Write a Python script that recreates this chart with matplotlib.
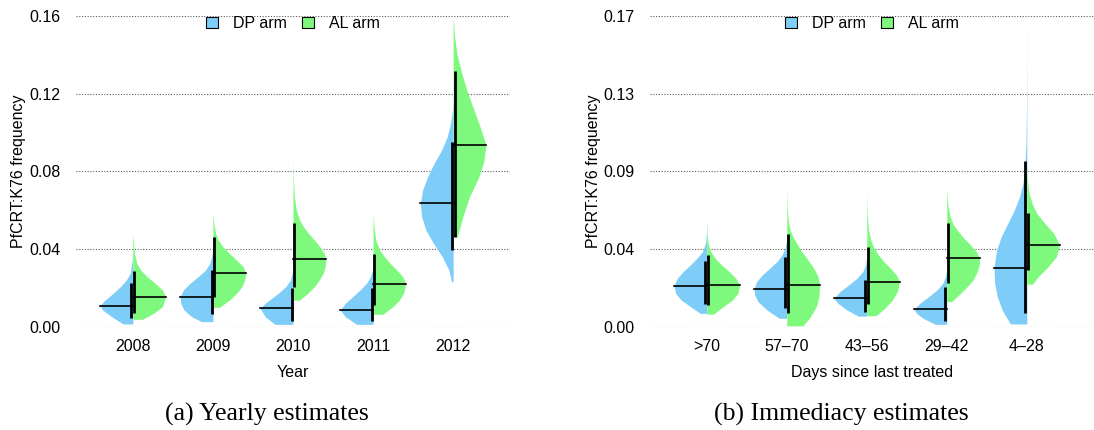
import matplotlib.pyplot as plt
from matplotlib.patches import Patch
import numpy as np

plt.rcParams['font.family'] = ['Liberation Sans', 'DejaVu Sans']

blue = '#7dcdf8'
green = '#7ef97e'
half_width = 0.41

# (a) yearly estimates
years = ['2008', '2009', '2010', '2011', '2012']
year_dp_median = [0.0108, 0.0155, 0.0094, 0.0086, 0.0635]
year_al_median = [0.0155, 0.0278, 0.0347, 0.0221, 0.0935]
year_dp_ci = [(0.0043, 0.0223), (0.0065, 0.0292), (0.0029, 0.0201), (0.0029, 0.0197), (0.0395, 0.0950)]
year_al_ci = [(0.0069, 0.0287), (0.0155, 0.0460), (0.0206, 0.0536), (0.0112, 0.0374), (0.0463, 0.1316)]
# density outline of each half violin: heights and relative widths
year_dp_y = [
    [0.0014, 0.0052, 0.0086, 0.0108, 0.0137, 0.0172, 0.0206, 0.024, 0.0275, 0.0343, 0.0395],
    [0.0026, 0.0052, 0.0086, 0.012, 0.0155, 0.0189, 0.0223, 0.0258, 0.0292, 0.0326, 0.0361, 0.0403],
    [0.0012, 0.0052, 0.0094, 0.012, 0.0146, 0.0172, 0.0206, 0.024, 0.0283, 0.0326],
    [0.0012, 0.0052, 0.0086, 0.012, 0.0155, 0.0189, 0.0223, 0.0258, 0.0292, 0.0326],
    [0.0232, 0.0292, 0.036, 0.0429, 0.0498, 0.0566, 0.0635, 0.0704, 0.0772, 0.0841, 0.091, 0.0978, 0.1047, 0.1116, 0.118],
]
year_dp_w = [
    [0.3, 0.65, 0.92, 1.0, 0.85, 0.6, 0.38, 0.2, 0.08, 0.02, 0],
    [0.35, 0.65, 0.88, 0.98, 1.0, 0.9, 0.7, 0.45, 0.22, 0.1, 0.04, 0],
    [0.55, 0.85, 1.0, 0.85, 0.65, 0.45, 0.22, 0.08, 0.02, 0],
    [0.5, 0.85, 1.0, 0.85, 0.62, 0.4, 0.2, 0.08, 0.02, 0],
    [0.05, 0.13, 0.33, 0.6, 0.83, 0.96, 1.0, 0.93, 0.78, 0.58, 0.35, 0.18, 0.08, 0.02, 0],
]
year_al_y = [
    [0.0038, 0.0069, 0.0103, 0.0155, 0.0189, 0.0223, 0.0258, 0.0292, 0.0326, 0.0378, 0.0446, 0.0472],
    [0.010, 0.0137, 0.0172, 0.0206, 0.024, 0.0278, 0.0309, 0.0343, 0.0378, 0.0412, 0.0446, 0.0481, 0.0532, 0.0584],
    [0.0137, 0.0172, 0.0206, 0.024, 0.0275, 0.0309, 0.0347, 0.0378, 0.0412, 0.0446, 0.0481, 0.0515, 0.0549, 0.0601, 0.067, 0.0755, 0.0858],
    [0.0064, 0.0103, 0.0137, 0.0172, 0.0221, 0.0258, 0.0292, 0.0326, 0.036, 0.0395, 0.0446, 0.0515, 0.0584],
    [0.0463, 0.057, 0.067, 0.077, 0.085, 0.0935, 0.100, 0.110, 0.120, 0.130, 0.140, 0.150, 0.160],
]
year_al_w = [
    [0.29, 0.63, 0.9, 1.0, 0.9, 0.68, 0.43, 0.24, 0.12, 0.05, 0.02, 0],
    [0.2, 0.5, 0.72, 0.88, 0.97, 1.0, 0.92, 0.72, 0.5, 0.3, 0.16, 0.08, 0.03, 0],
    [0.2, 0.45, 0.65, 0.8, 0.92, 0.98, 1.0, 0.95, 0.82, 0.65, 0.47, 0.32, 0.2, 0.1, 0.04, 0.015, 0],
    [0.3, 0.6, 0.8, 0.93, 1.0, 0.9, 0.72, 0.52, 0.35, 0.2, 0.08, 0.03, 0],
    [0.13, 0.3, 0.5, 0.78, 0.93, 1.0, 0.88, 0.67, 0.45, 0.27, 0.12, 0.04, 0],
]

# (b) immediacy estimates
days = ['>70', '57\u201370', '43\u201356', '29\u201342', '4\u201328']
days_dp_median = [0.0225, 0.0207, 0.0155, 0.0095, 0.0323]
days_al_median = [0.0229, 0.0230, 0.0247, 0.0375, 0.0447]
days_dp_ci = [(0.0124, 0.036), (0.0101, 0.0384), (0.0082, 0.0256), (0.0033, 0.0219), (0.0073, 0.0908)]
days_al_ci = [(0.0119, 0.0393), (0.0077, 0.0506), (0.0124, 0.0435), (0.0238, 0.0567), (0.031, 0.0624)]
days_dp_y = [
    [0.0073, 0.011, 0.0146, 0.0183, 0.0225, 0.0265, 0.0302, 0.0338, 0.0375, 0.0411, 0.0457, 0.0512, 0.0567],
    [0.0046, 0.0091, 0.0137, 0.0174, 0.0207, 0.0247, 0.0283, 0.032, 0.0356, 0.0393, 0.043, 0.0475, 0.0512],
    [0.0058, 0.0091, 0.0128, 0.0155, 0.0192, 0.0229, 0.0265, 0.0302, 0.0338, 0.0384],
    [0.0013, 0.0046, 0.0073, 0.0095, 0.0128, 0.0165, 0.0201, 0.0238, 0.0274, 0.032],
    [0.0015, 0.0091, 0.0164, 0.0237, 0.0323, 0.042, 0.0492, 0.0565, 0.0638, 0.0711, 0.0784, 0.0876, 0.1003, 0.1186, 0.1459, 0.1678],
]
days_dp_w = [
    [0.2, 0.5, 0.78, 0.95, 1.0, 0.9, 0.72, 0.5, 0.3, 0.13, 0.04, 0.01, 0],
    [0.23, 0.6, 0.88, 0.98, 1.0, 0.92, 0.75, 0.52, 0.3, 0.14, 0.05, 0.01, 0],
    [0.26, 0.6, 0.88, 1.0, 0.82, 0.55, 0.3, 0.12, 0.04, 0],
    [0.35, 0.72, 0.92, 1.0, 0.82, 0.55, 0.3, 0.12, 0.04, 0],
    [0.5, 0.75, 0.9, 0.98, 1.0, 0.92, 0.78, 0.58, 0.38, 0.22, 0.12, 0.06, 0.025, 0.01, 0.003, 0],
]
days_al_y = [
    [0.0069, 0.011, 0.0146, 0.0183, 0.0229, 0.0265, 0.0302, 0.0338, 0.0375, 0.0411, 0.0457, 0.0512, 0.0576],
    [0.0005, 0.0055, 0.011, 0.0165, 0.023, 0.0274, 0.0311, 0.0347, 0.0384, 0.042, 0.0457, 0.0494, 0.053, 0.0585, 0.0658, 0.0753],
    [0.006, 0.0101, 0.0146, 0.0192, 0.0247, 0.0283, 0.032, 0.0356, 0.0393, 0.043, 0.0475, 0.053, 0.0622, 0.0731],
    [0.0137, 0.0183, 0.0219, 0.0256, 0.0302, 0.0338, 0.0375, 0.0411, 0.0448, 0.0484, 0.0521, 0.0558, 0.0603, 0.0658, 0.0746],
    [0.0233, 0.0274, 0.0328, 0.0383, 0.0447, 0.0511, 0.0566, 0.062, 0.0675, 0.073, 0.08, 0.088],
]
days_al_w = [
    [0.2, 0.5, 0.78, 0.95, 1.0, 0.88, 0.68, 0.45, 0.25, 0.12, 0.04, 0.01, 0],
    [0.5, 0.72, 0.9, 0.98, 1.0, 0.95, 0.85, 0.72, 0.57, 0.42, 0.3, 0.18, 0.1, 0.04, 0.015, 0],
    [0.28, 0.55, 0.78, 0.93, 1.0, 0.9, 0.72, 0.52, 0.35, 0.22, 0.12, 0.05, 0.015, 0],
    [0.15, 0.42, 0.62, 0.8, 0.93, 0.99, 1.0, 0.9, 0.72, 0.52, 0.35, 0.2, 0.1, 0.04, 0],
    [0.18, 0.35, 0.65, 0.9, 1.0, 0.82, 0.55, 0.3, 0.16, 0.07, 0.02, 0],
]


def draw_panel(ax, labels, dp_y, dp_w, al_y, al_w, dp_med, al_med, dp_ci, al_ci):
    off = 0.017  # bars sit just either side of the split
    for i in range(len(labels)):
        y = np.array(dp_y[i]); w = np.array(dp_w[i]) * half_width
        ax.fill_betweenx(y, i - w, i, color=blue, lw=0, clip_on=False, zorder=2)
        y2 = np.array(al_y[i]); w2 = np.array(al_w[i]) * half_width
        ax.fill_betweenx(y2, i, i + w2, color=green, lw=0, clip_on=False, zorder=2)
        # medians
        ax.plot([i - np.interp(dp_med[i], y, w), i], [dp_med[i]] * 2, color='black', lw=1.2, zorder=3)
        ax.plot([i, i + np.interp(al_med[i], y2, w2)], [al_med[i]] * 2, color='black', lw=1.2, zorder=3)
        # intervals
        ax.plot([i - off, i - off], dp_ci[i], color='black', lw=2.0, solid_capstyle='butt', zorder=4)
        ax.plot([i + off, i + off], al_ci[i], color='black', lw=2.0, solid_capstyle='butt', zorder=4)
    ax.set_xticks(range(len(labels)))
    ax.set_xticklabels(labels)
    for s in ax.spines.values():
        s.set_visible(False)
    ax.tick_params(length=0, labelsize=11.5)
    ax.tick_params(axis='y', pad=11)
    ax.tick_params(axis='x', pad=9)
    ax.yaxis.grid(True, linestyle=(0, (1, 1.5)), color='0.35', lw=0.8)
    ax.set_axisbelow(True)
    handles = [Patch(facecolor=blue, edgecolor='black', lw=0.8, label='DP arm'),
               Patch(facecolor=green, edgecolor='black', lw=0.8, label='AL arm')]
    ax.legend(handles=handles, loc='upper center', bbox_to_anchor=(0.5, 1.0), ncol=2,
              frameon=False, fontsize=11.5, handlelength=0.75, handleheight=0.75,
              handletextpad=0.9, columnspacing=1.0, borderaxespad=0, borderpad=0)


fig = plt.figure(figsize=(10.94, 4.30), dpi=100)
ax1 = fig.add_axes([76 / 1094, 103.3 / 430, 434 / 1094, 310.7 / 430])
ax2 = fig.add_axes([650 / 1094, 103.3 / 430, 444 / 1094, 310.7 / 430])

draw_panel(ax1, years, year_dp_y, year_dp_w, year_al_y, year_al_w,
           year_dp_median, year_al_median, year_dp_ci, year_al_ci)
ax1.set_xlim(-0.71, 4.71)
ax1.set_ylim(0, 0.16)
ax1.set_yticks([0, 0.04, 0.08, 0.12, 0.16])
ax1.set_yticklabels(['0.00', '0.04', '0.08', '0.12', '0.16'])
ax1.set_xlabel('Year', fontsize=11.5)
ax1.set_ylabel('PfCRT:K76 frequency', fontsize=11.5)
ax1.xaxis.set_label_coords(0.5, -0.123)
ax1.yaxis.set_label_coords(-0.115, 0.5)

draw_panel(ax2, days, days_dp_y, days_dp_w, days_al_y, days_al_w,
           days_dp_median, days_al_median, days_dp_ci, days_al_ci)
ax2.set_xlim(-0.71, 4.84)
ax2.set_ylim(0, 0.17)
ax2.set_yticks([0, 0.0425, 0.085, 0.1275, 0.17])
ax2.set_yticklabels(['0.00', '0.04', '0.09', '0.13', '0.17'])
ax2.set_xlabel('Days since last treated', fontsize=11.5)
ax2.set_ylabel('PfCRT:K76 frequency', fontsize=11.5)
ax2.xaxis.set_label_coords(0.5, -0.123)
ax2.yaxis.set_label_coords(-0.11, 0.5)

fig.text(267 / 1094, 1 - 414 / 430, '(a) Yearly estimates', ha='center', va='center',
         fontsize=18.5, family=['Liberation Serif', 'DejaVu Serif'])
fig.text(841 / 1094, 1 - 414 / 430, '(b) Immediacy estimates', ha='center', va='center',
         fontsize=18.5, family=['Liberation Serif', 'DejaVu Serif'])

fig.savefig('out.png', dpi=100)
